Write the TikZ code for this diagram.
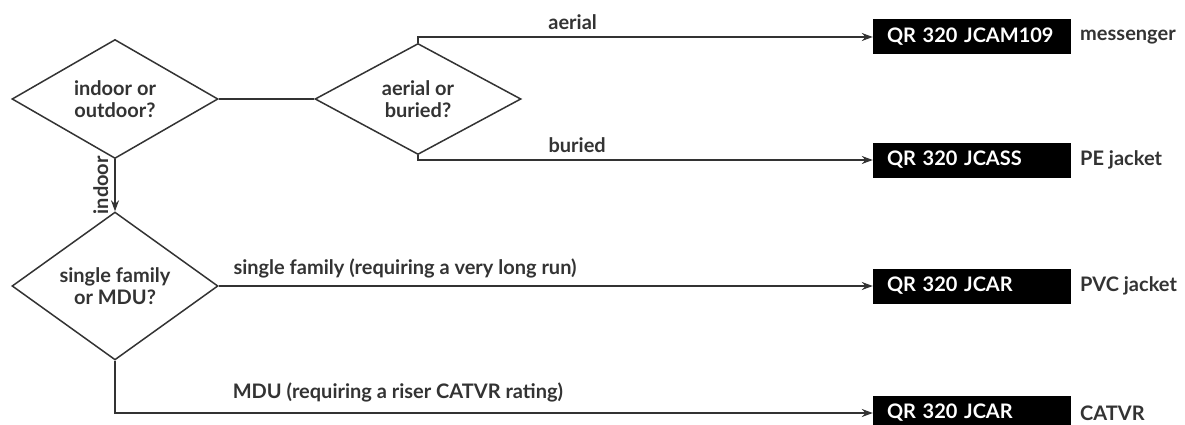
\documentclass[tikz,border=0pt]{standalone}
\usepackage{fontspec}
\setmainfont{Lato}
\usetikzlibrary{shapes.geometric,arrows.meta}
\definecolor{ink}{HTML}{333333}
\tikzset{
  decision/.style={diamond, draw=ink, line width=1.5pt, minimum width=206pt, minimum height=111pt, inner sep=0pt, align=center, text=ink, font=\fontsize{20}{22}\selectfont\bfseries},
  cable/.style={fill=black, text=white, minimum width=198pt, minimum height=35pt, inner xsep=14pt, inner ysep=0pt, text width=170pt, align=left, font=\fontsize{20}{22}\selectfont\bfseries},
  lbl/.style={text=ink, inner sep=0pt, font=\fontsize{20}{22}\selectfont\bfseries},
  conn/.style={draw=ink, line width=1.5pt},
  arr/.style={conn, -{Stealth[length=11pt,width=8pt]}}
}
\begin{document}
\begin{tikzpicture}[x=1pt,y=-1pt]
\useasboundingbox (0,0) rectangle (1185,425);
\node[decision] (d1) at (115,99) {indoor or\\outdoor?};
\node[decision] (d2) at (418,99) {aerial or\\buried?};
\node[decision] (d3) at (115,286) {single family\\or MDU?};
\node[cable] (b1) at (972,37) {QR 320 JCAM109};
\node[cable] (b2) at (972,160) {QR 320 JCASS};
\node[cable] (b3) at (972,286) {QR 320 JCAR};
\node[cable] (b4) at (972,413) {QR 320 JCAR};
\node[lbl, anchor=west] (t1) at (1080,37) {messenger};
\node[lbl, anchor=west] (t2) at (1080,160) {PE jacket};
\node[lbl, anchor=west] (t3) at (1080,286) {PVC jacket};
\node[lbl, anchor=west] (t4) at (1080,413) {CATVR};
\draw[conn] (d1.east) -- (d2.west);
\draw[arr] (d2.north) |- node[lbl, pos=0.67, above=7pt] {aerial} (b1.west);
\draw[arr] (d2.south) |- node[lbl, pos=0.675, above=7pt] {buried} (b2.west);
\draw[arr] (d1.south) -- node[lbl, left=6pt, rotate=90, anchor=south] {indoor} (d3.north);
\draw[arr] (d3.east) -- node[lbl, pos=0.0, anchor=south west, xshift=14pt, yshift=7pt] {single family (requiring a very long run)} (b3.west);
\draw[arr] (d3.south) |- node[lbl, pos=0.5, anchor=south west, xshift=117pt, yshift=10pt] {MDU (requiring a riser CATVR rating)} (b4.west);
\end{tikzpicture}
\end{document}
